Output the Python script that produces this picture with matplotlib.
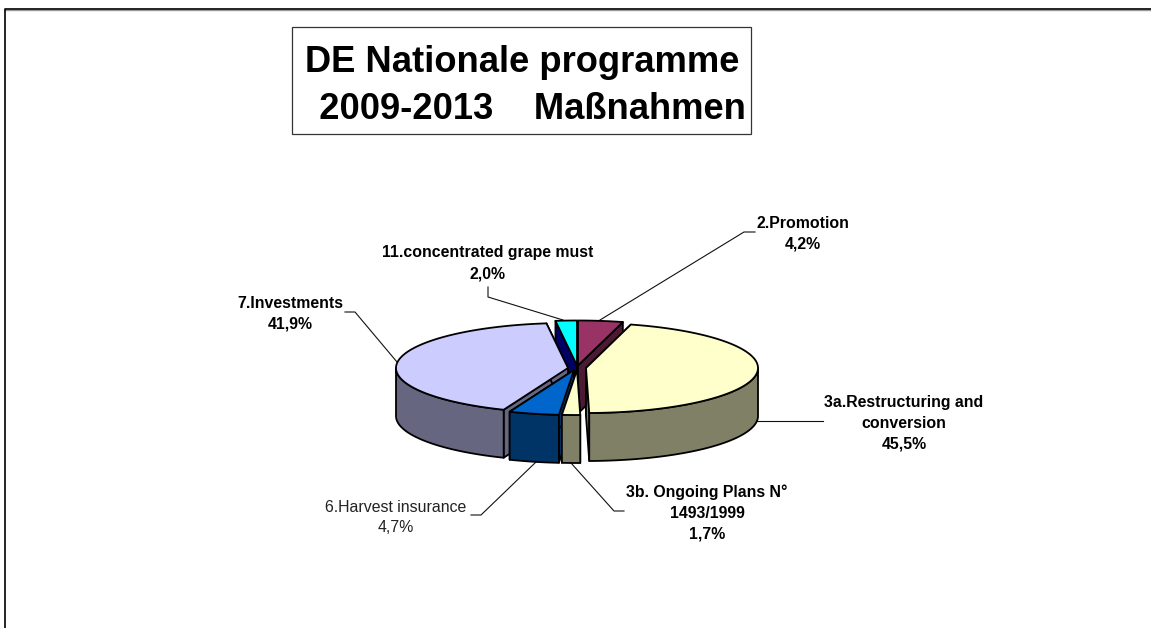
from matplotlib import pyplot as plt
from matplotlib.patches import Polygon, Rectangle
import numpy as np

plt.rcParams['font.family'] = ['Liberation Sans', 'DejaVu Sans']

# shares in percent, clockwise from 12 o'clock
names = ["2.Promotion", "3a.Restructuring and\nconversion", "3b. Ongoing Plans N°\n1493/1999",
         "6.Harvest insurance", "7.Investments", "11.concentrated grape must"]
values = [4.2, 45.5, 1.7, 4.7, 41.9, 2.0]
pct_text = ["4,2%", "45,5%", "1,7%", "4,7%", "41,9%", "2,0%"]

top_colors = ["#993366", "#FFFFCC", "#FFFFCC", "#0066CC", "#CCCCFF", "#00FFFF"]
side_colors = ["#4D1A33", "#808066", "#808066", "#003366", "#666680", "#000066"]

# tip of each slice in pixels (slices are pulled apart)
tips = [(578, 365.5), (586, 368), (577, 370), (574, 370), (568, 368), (577, 365.5)]
draw_order = [5, 0, 4, 1, 3, 2]

rx, ry, depth = 172, 45, 48

label_xy = [(803, 223), (904, 402), (707, 492), (396, 507), (290, 303), (488, 253)]
label_bold = [True, True, True, False, True, True]
leaders = [
    [(600, 320), (744, 232), (755, 232)],
    [(757, 421), (823, 421)],
    [(571, 463), (614, 511), (624, 511)],
    [(536, 462), (481, 515), (471, 515)],
    [(397, 362), (355, 312), (345, 312)],
    [(563, 320), (488, 297), (488, 287)],
]

fig = plt.figure(figsize=(11.51, 6.28), dpi=100)
ax = fig.add_axes([0, 0, 1, 1])
ax.set_xlim(0, 1151)
ax.set_ylim(628, 0)
ax.axis("off")

# frame, only top and left are inside the picture
ax.plot([5, 1151], [9.5, 9.5], color="#999999", lw=1, zorder=1)
ax.plot([5, 5, 1151], [628, 8.5, 8.5], color="black", lw=1.2, zorder=1)

# title
ax.add_patch(Rectangle((292, 27), 459, 107, fc="white", ec="#333333", lw=0.9, zorder=1))
ax.text(522.5, 86, "DE Nationale programme\n  2009-2013    Maßnahmen", fontsize=26.2, fontweight="bold",
        ha="center", va="center", multialignment="center", linespacing=1.41, zorder=2)

for pts in leaders:
    xs, ys = zip(*pts)
    ax.plot(xs, ys, color="#111111", lw=0.8, zorder=2)

edges = np.cumsum([0] + values) / sum(values) * 2 * np.pi


def rim(tip, t):
    return np.column_stack([tip[0] + rx * np.sin(t), tip[1] - ry * np.cos(t)])


z = 3
line = dict(ec="black", lw=1.3, joinstyle="round")
for i in draw_order:
    tip = np.array(tips[i])
    a, b = edges[i], edges[i + 1]
    down = np.array([0, depth])
    # flat walls of the cut
    for ang in (a, b):
        e = rim(tip, np.array([ang]))[0]
        ax.add_patch(Polygon([tip, e, e + down, tip + down], fc=side_colors[i], zorder=z, **line))
    # outer wall, only the front half of the rim shows
    lo, hi = max(a, np.pi / 2), min(b, 3 * np.pi / 2)
    if hi > lo:
        arc = rim(tip, np.linspace(lo, hi, 80))
        ax.add_patch(Polygon(np.vstack([arc, arc[::-1] + down]), fc=side_colors[i], zorder=z, **line))
    # top face
    arc = rim(tip, np.linspace(a, b, 120))
    ax.add_patch(Polygon(np.vstack([tip, arc]), fc=top_colors[i], zorder=z, **line))
    z += 1

for name, pct, (x, y), bold in zip(names, pct_text, label_xy, label_bold):
    n = name.count("\n") + 2
    ax.text(x, y + (n - 1) * 10.5, name + "\n" + pct, fontsize=11.4, fontweight="bold" if bold else "normal",
            color="black" if bold else "#222222", ha="center", va="center", multialignment="center",
            linespacing=1.5, zorder=20)

fig.savefig("out.png", dpi=100)
